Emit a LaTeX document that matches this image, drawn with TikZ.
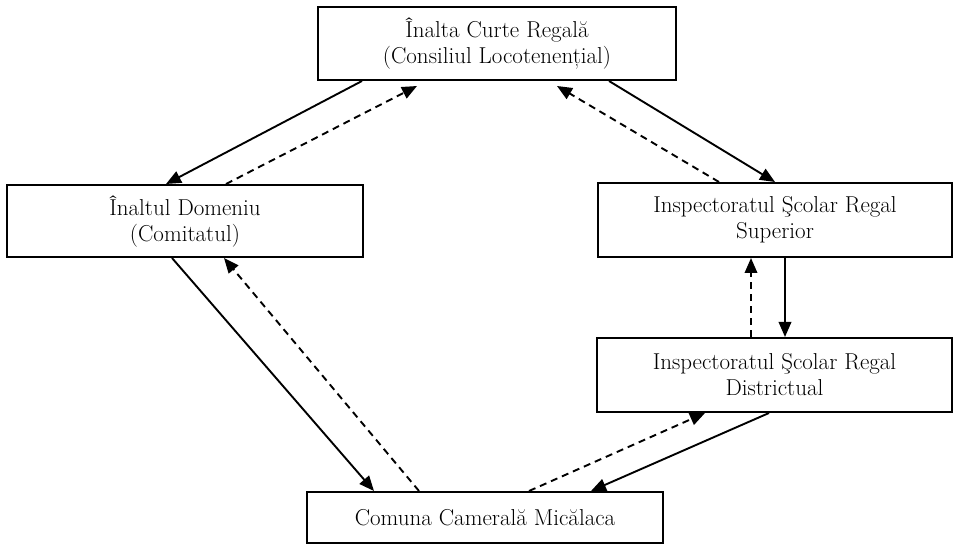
\documentclass[tikz,border=0pt]{standalone}
\usepackage{fontspec}
\usetikzlibrary{arrows.meta,calc}
\begin{document}
\begin{tikzpicture}[x=1pt,y=-1pt,
  box/.style={draw=black,line width=2pt,fill=white,inner sep=0pt,align=center,
    font=\fontsize{23}{26}\selectfont},
  solidarrow/.style={line width=1.9pt,-{Triangle[length=15pt,width=12.5pt]}},
  dasharrow/.style={line width=1.9pt,dash pattern=on 7pt off 5pt,-{Triangle[length=15pt,width=12.5pt]}}]
\useasboundingbox (0,0) rectangle (956,545);
\node[box,minimum width=358pt,minimum height=73pt] (top) at (497,43.5) {Înalta Curte Regală\\(Consiliul Locotenențial)};
\node[box,minimum width=356pt,minimum height=72pt] (left) at (185,221) {Înaltul Domeniu\\(Comitatul)};
\node[box,minimum width=354pt,minimum height=74pt] (rtop) at (775,220) {Inspectoratul Şcolar Regal\\Superior};
\node[box,minimum width=355pt,minimum height=74pt] (rlow) at (774.5,375) {Inspectoratul Şcolar Regal\\Districtual};
\node[box,minimum width=356pt,minimum height=51pt] (bot) at (485,517.5) {Comuna Camerală Micălaca};
% top <-> left
\draw[solidarrow] ($(top.south west)+(45,0)$) -- ($(left.north west)+(160,0)$);
\draw[dasharrow] ($(left.north west)+(220,0)$) -- ($(top.south west)+(100,5)$);
% top <-> rtop
\draw[dasharrow] ($(rtop.north west)+(122,0)$) -- ($(top.south west)+(240,5)$);
\draw[solidarrow] ($(top.south west)+(292,0)$) -- ($(rtop.north west)+(178,0)$);
% rtop <-> rlow
\draw[solidarrow] ($(rtop.south west)+(188,0)$) -- ($(rlow.north west)+(189,0)$);
\draw[dasharrow] ($(rlow.north west)+(155,0)$) -- ($(rtop.south west)+(154,0)$);
% rlow <-> bot
\draw[solidarrow] ($(rlow.south west)+(173,0)$) -- ($(bot.north west)+(285,0)$);
\draw[dasharrow] ($(bot.north west)+(223,0)$) -- ($(rlow.south west)+(109,0)$);
% left <-> bot
\draw[solidarrow] ($(left.south west)+(166,0)$) -- ($(bot.north west)+(68,0)$);
\draw[dasharrow] ($(bot.north west)+(113,0)$) -- ($(left.south west)+(218,0)$);
\end{tikzpicture}
\end{document}
